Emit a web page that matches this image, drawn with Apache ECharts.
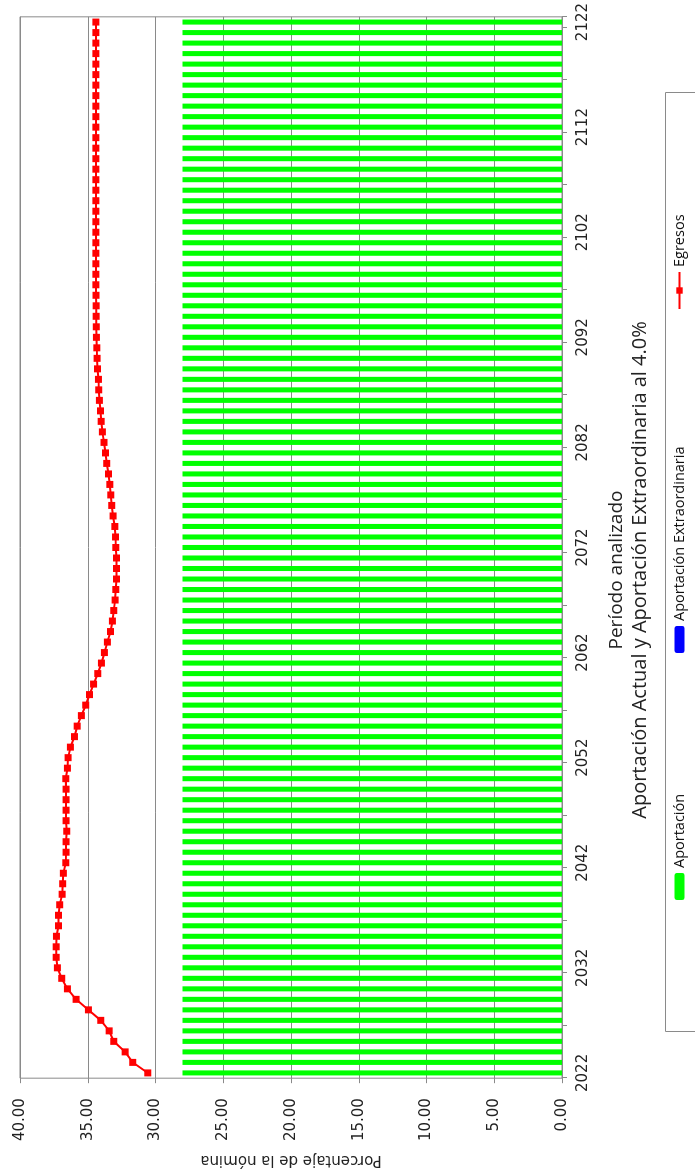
<!DOCTYPE html>
<html>
<head>
<meta charset="utf-8">
<script src="https://cdn.jsdelivr.net/npm/echarts@6/dist/echarts.min.js"></script>
<style>
html,body{margin:0;padding:0;width:695px;height:1175px;overflow:hidden;background:#fff;}
#wrap{position:absolute;left:0;top:0;width:1175px;height:695px;transform-origin:0 0;transform:translate(0,1175px) rotate(-90deg);}
</style>
</head>
<body>
<div id="wrap"></div>
<script>
// ---- data ----
const years = [2022,2023,2024,2025,2026,2027,2028,2029,2030,2031,
2032,2033,2034,2035,2036,2037,2038,2039,2040,2041,
2042,2043,2044,2045,2046,2047,2048,2049,2050,2051,
2052,2053,2054,2055,2056,2057,2058,2059,2060,2061,
2062,2063,2064,2065,2066,2067,2068,2069,2070,2071,
2072,2073,2074,2075,2076,2077,2078,2079,2080,2081,
2082,2083,2084,2085,2086,2087,2088,2089,2090,2091,
2092,2093,2094,2095,2096,2097,2098,2099,2100,2101,
2102,2103,2104,2105,2106,2107,2108,2109,2110,2111,
2112,2113,2114,2115,2116,2117,2118,2119,2120,2121,
2122];
const aportacion = [28,28,28,28,28,28,28,28,28,28,
28,28,28,28,28,28,28,28,28,28,
28,28,28,28,28,28,28,28,28,28,
28,28,28,28,28,28,28,28,28,28,
28,28,28,28,28,28,28,28,28,28,
28,28,28,28,28,28,28,28,28,28,
28,28,28,28,28,28,28,28,28,28,
28,28,28,28,28,28,28,28,28,28,
28,28,28,28,28,28,28,28,28,28,
28,28,28,28,28,28,28,28,28,28,
28];
const aportacionExtra = [0,0,0,0,0,0,0,0,0,0,
0,0,0,0,0,0,0,0,0,0,
0,0,0,0,0,0,0,0,0,0,
0,0,0,0,0,0,0,0,0,0,
0,0,0,0,0,0,0,0,0,0,
0,0,0,0,0,0,0,0,0,0,
0,0,0,0,0,0,0,0,0,0,
0,0,0,0,0,0,0,0,0,0,
0,0,0,0,0,0,0,0,0,0,
0,0,0,0,0,0,0,0,0,0,
0];
const egresos = [30.57,31.68,32.24,33.08,33.42,34.04,34.95,35.86,36.50,36.92,
37.24,37.33,37.33,37.31,37.16,37.16,37.07,36.89,36.85,36.80,
36.62,36.60,36.60,36.55,36.60,36.60,36.60,36.60,36.62,36.50,
36.45,36.28,35.98,35.78,35.47,35.15,34.87,34.57,34.26,33.99,
33.77,33.55,33.32,33.18,33.08,32.98,32.93,32.88,32.88,32.88,
32.93,32.95,33.00,33.13,33.23,33.30,33.37,33.47,33.60,33.69,
33.80,33.92,34.01,34.06,34.14,34.19,34.21,34.28,34.31,34.33,
34.36,34.37,34.38,34.38,34.39,34.40,34.40,34.40,34.40,34.40,
34.40,34.40,34.40,34.40,34.40,34.40,34.40,34.40,34.40,34.40,
34.40,34.40,34.40,34.40,34.40,34.40,34.40,34.40,34.40,34.40,
34.40];
const valueTickLabels = ['0.00','5.00','10.00','15.00','20.00','25.00','30.00','35.00','40.00'];
const seriesNames = ['Aportación','Aportación Extraordinaria','Egresos'];
const axisName = 'Porcentaje de la nómina';
const titleLine1 = 'Período analizado';
const titleLine2 = 'Aportación Actual y Aportación Extraordinaria al 4.0%';

// ---- chart ----
const GRID = '#8a8a8a';
const AXFONT = 'DejaVu Sans';
const chart = echarts.init(document.getElementById('wrap'), null, {renderer:'canvas'});
const legendText = {fontFamily:'Open Sans', fontSize:14.5, color:'#111'};
chart.setOption({
  animation:false,
  grid:{left:95,right:15,top:20,bottom:133,show:true,borderColor:GRID,borderWidth:1,containLabel:false},
  xAxis:{
    type:'category', data:years, boundaryGap:true,
    axisLine:{show:true,lineStyle:{color:GRID,width:1}},
    axisTick:{show:true,interval:4,length:5,inside:false,lineStyle:{color:GRID}},
    axisLabel:{interval:9,margin:14,fontFamily:AXFONT,fontSize:15,color:'#222'},
    splitLine:{show:false}
  },
  yAxis:{
    type:'value', min:0, max:40, interval:5,
    name:axisName, nameLocation:'middle', nameGap:70,
    nameTextStyle:{fontFamily:AXFONT,fontSize:15,color:'#222'},
    axisLine:{show:false},
    axisTick:{show:true,length:5,inside:false,lineStyle:{color:GRID}},
    axisLabel:{margin:20,fontFamily:AXFONT,fontSize:15,color:'#222',
      formatter:function(v){return valueTickLabels[Math.round(v/5)];}},
    splitLine:{show:true,lineStyle:{color:GRID,width:1}}
  },
  legend:[
    {data:[seriesNames[0]],left:275,top:672,padding:0,itemWidth:27,itemHeight:10,itemGap:5,textStyle:legendText},
    {data:[seriesNames[1]],left:522,top:672,padding:0,itemWidth:27,itemHeight:10,itemGap:5,textStyle:legendText},
    {data:[seriesNames[2]],left:865,top:672,padding:0,itemWidth:37,itemHeight:8,itemGap:5,textStyle:legendText}
  ],
  graphic:[
    {type:'rect',silent:true,shape:{x:143.5,y:665.5,width:939,height:60},style:{fill:'none',stroke:GRID,lineWidth:1}},
    {type:'text',silent:true,x:605,y:617,style:{text:titleLine1,align:'center',verticalAlign:'middle',fontFamily:'Open Sans',fontSize:19,fill:'#222'}},
    {type:'text',silent:true,x:605,y:640,style:{text:titleLine2,align:'center',verticalAlign:'middle',fontFamily:'Open Sans',fontSize:20,fill:'#222'}}
  ],
  series:[
    {name:seriesNames[0],type:'bar',stack:'a',data:aportacion,barWidth:'48%',itemStyle:{color:'#00ff00'},z:2},
    {name:seriesNames[1],type:'bar',stack:'a',data:aportacionExtra,barWidth:'48%',itemStyle:{color:'#0000ff'},z:2},
    {name:seriesNames[2],type:'line',data:egresos,symbol:'rect',symbolSize:7,showSymbol:true,
      lineStyle:{color:'#ff0000',width:2},itemStyle:{color:'#ff0000'},z:5}
  ]
});
</script>
</body>
</html>
